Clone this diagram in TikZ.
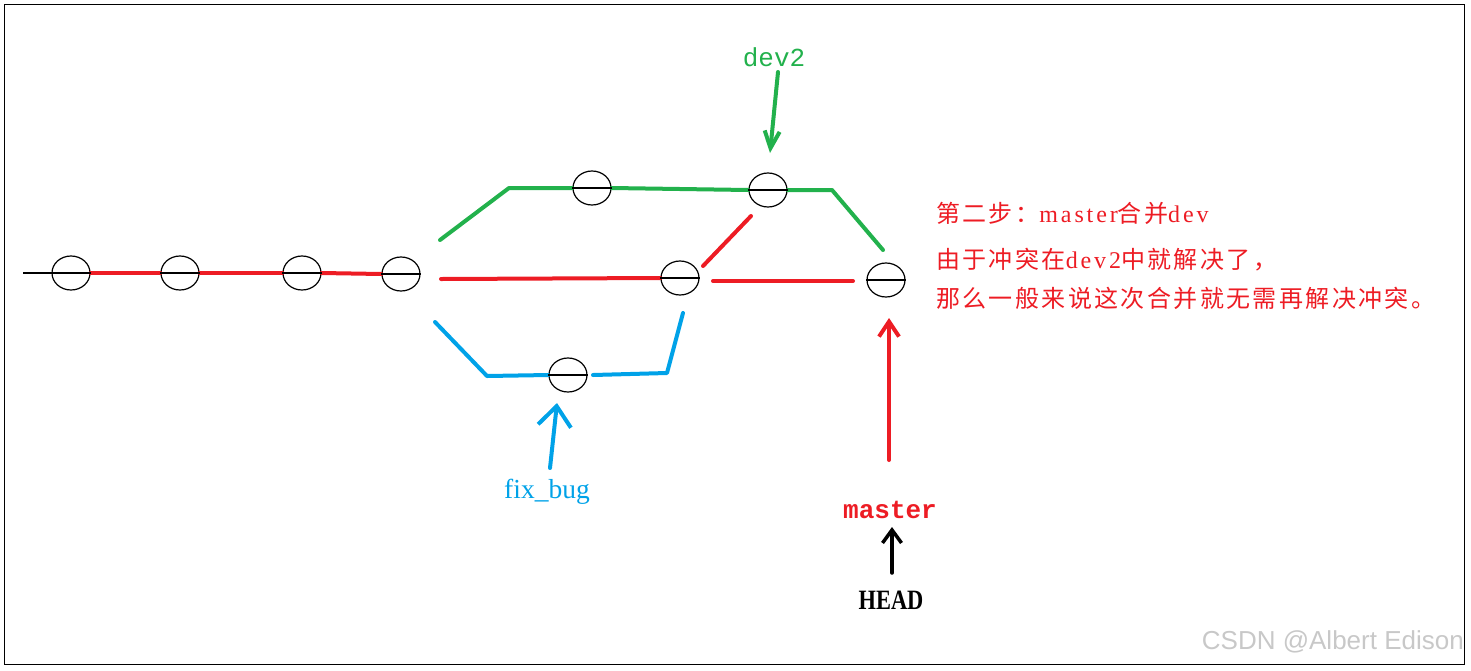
\documentclass[tikz,border=0pt]{standalone}
\usepackage{fontspec}
\usetikzlibrary{shapes.geometric,arrows.meta}
\newfontfamily\cjk[LetterSpace=10]{Noto Sans CJK SC}
\newfontfamily\latserif[LetterSpace=12]{Liberation Serif}
\newfontfamily\plainserif{Liberation Serif}
\newfontfamily\monof{Liberation Mono}
\newfontfamily\sansf{Liberation Sans}
\definecolor{gitgreen}{RGB}{34,177,76}
\definecolor{gitred}{RGB}{237,28,36}
\definecolor{gitblue}{RGB}{0,162,232}
\definecolor{wmgray}{RGB}{200,200,200}
\begin{document}
\begin{tikzpicture}[x=1pt,y=-1pt,
  commit/.style={ellipse, draw=black, line width=1.2pt, minimum width=38pt, minimum height=34pt, inner sep=0pt},
  diam/.style={draw=black, line width=1.2pt},
  branchline/.style={line width=4pt, line cap=round, line join=round},
  thinline/.style={line width=1.3pt, black},
  ptr/.style={line width=4pt, line cap=round, line join=round},
  lbl/.style={inner sep=0pt}]
\useasboundingbox (0,0) rectangle (1471,670);
\draw[line width=1.5pt] (4.5,4.5) rectangle (1464.5,664.5);

% commits
\node[commit] (c1) at (71,273) {};
\node[commit] (c2) at (180,273) {};
\node[commit] (c3) at (302,273) {};
\node[commit] (c4) at (401,274) {};
\node[commit] (g1) at (592,188) {};
\node[commit] (g2) at (768,190) {};
\node[commit] (m1) at (680,278) {};
\node[commit] (b1) at (568,375) {};
\node[commit] (m2) at (886,280) {};

% points
\coordinate (start) at (23,273);
\coordinate (gs) at (440,240);
\coordinate (gb) at (509,188);
\coordinate (ge1) at (832,190);
\coordinate (ge2) at (883,250);
\coordinate (rs) at (441,279);
\coordinate (rd1) at (703,266);
\coordinate (rd2) at (751,216);
\coordinate (rm1) at (713,281);
\coordinate (rm2) at (853,281);
\coordinate (bs) at (435,322);
\coordinate (bb) at (487,376);
\coordinate (be0) at (593,375);
\coordinate (be1) at (667,373);
\coordinate (be2) at (683,313);

% main line
\draw[thinline] (start) -- (c1.west);
\draw[branchline, gitred] (c1.east) -- (c2.west);
\draw[branchline, gitred] (c2.east) -- (c3.west);
\draw[branchline, gitred] (c3.east) -- (c4.west);

% green dev2 branch
\draw[branchline, gitgreen] (gs) -- (gb) -- (g1.west);
\draw[branchline, gitgreen] (g1.east) -- (g2.west);
\draw[branchline, gitgreen] (g2.east) -- (ge1) -- (ge2);

% red
\draw[branchline, gitred] (rs) -- (m1.west);
\draw[branchline, gitred] (rd1) -- (rd2);
\draw[branchline, gitred] (rm1) -- (rm2);

% blue
\draw[branchline, gitblue] (bs) -- (bb) -- (b1.west);
\draw[branchline, gitblue] (be0) -- (be1) -- (be2);

% diameters
\foreach \n in {c1,c2,c3,c4,g1,g2,m1,b1,m2}{
  \draw[diam] (\n.west) -- (\n.east);
}

% labels
\node[lbl, text=gitgreen, font=\monof\fontsize{26}{28}\selectfont] (dev2) at (774,57) {dev2};
\node[lbl, text=gitblue, font=\plainserif\fontsize{27.5}{30}\selectfont] (fixbug) at (547,492) {fix\_bug};
\node[lbl, text=gitred, font=\monof\bfseries\fontsize{26}{28}\selectfont] (master) at (890,510) {master};
\node[lbl, text=black, font=\plainserif\bfseries\fontsize{28}{30}\selectfont, xscale=0.8] (head) at (891,600) {HEAD};

% pointer arrows
\coordinate (dtail) at (778,72);
\coordinate (dtip) at (770,153);
\coordinate (ftail) at (550,468);
\coordinate (ftip) at (557,403);
\coordinate (mtail) at (889,460);
\coordinate (mtip) at (889,318);
\coordinate (htail) at (892,573);
\coordinate (htip) at (892,527);
\draw[ptr, gitgreen, -{Straight Barb[length=17pt,width=15pt]}] (dtail) -- (dtip);
\draw[ptr, gitblue, -{Straight Barb[length=20pt,width=33pt]}] (ftail) -- (ftip);
\draw[ptr, gitred, -{Straight Barb[length=15pt,width=20pt]}] (mtail) -- (mtip);
\draw[ptr, black, line width=3.5pt, -{Straight Barb[length=13pt,width=19pt]}] (htail) -- (htip);

% explanation text
\node[lbl, anchor=west, text=gitred, font=\fontsize{24}{26}\selectfont] (t1) at (936,213)
  {\cjk 第二步：\latserif master\cjk 合并\latserif dev};
\node[lbl, anchor=west, text=gitred, font=\fontsize{24}{26}\selectfont] (t2) at (936,260)
  {\cjk 由于冲突在\latserif dev2\cjk 中就解决了，};
\node[lbl, anchor=west, text=gitred, font=\fontsize{24}{26}\selectfont] (t3) at (936,298)
  {\cjk 那么一般来说这次合并就无需再解决冲突。};

% watermark
\node[lbl, anchor=east, text=wmgray, font=\sansf\fontsize{26}{28}\selectfont] (wm) at (1464,642) {CSDN @Albert Edison};
\end{tikzpicture}
\end{document}
